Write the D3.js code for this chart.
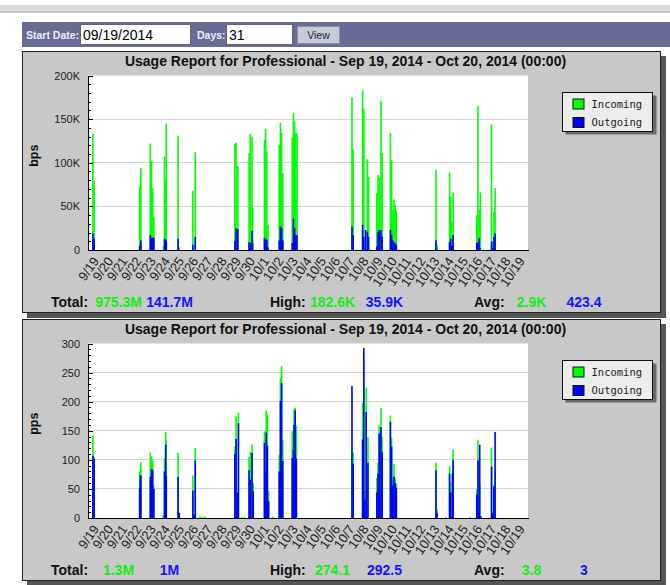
<!DOCTYPE html>
<head>
  <title>Usage Report</title>
  <meta charset="utf-8">
</head>
<style>
  body {
    margin: 0;
    background: #fff;
    overflow: hidden;
  }
  svg {
    display: block;
    font-family: "Liberation Sans", Arial, sans-serif;
  }
  .grid line {
    stroke: #d4d4d4;
    shape-rendering: crispEdges;
  }
  .yaxis path, .yaxis line, .xaxis path {
    stroke: #000;
    shape-rendering: crispEdges;
  }
  .yaxis text, .xaxis text {
    fill: #222;
    font-size: 11px;
    font-family: "Liberation Sans", Arial, sans-serif;
  }
  .xaxis text {
    font-size: 13px;
  }
</style>
<body>
  <svg id="page" width="670" height="585"></svg>
<script src="https://cdnjs.cloudflare.com/ajax/libs/d3/7.8.5/d3.min.js"></script>
<script>
  // x categories: one label per day, data is hourly (hours since 9/19 00:00)
  var days = ['9/19', '9/20', '9/21', '9/22', '9/23', '9/24', '9/25', '9/26', '9/27', '9/28',
              '9/29', '9/30', '10/1', '10/2', '10/3', '10/4', '10/5', '10/6', '10/7', '10/8',
              '10/9', '10/10', '10/11', '10/12', '10/13', '10/14', '10/15', '10/16', '10/17',
              '10/18', '10/19'];
  var totalHours = 744;

  // bps chart, values in K; hours not listed are 0
  var bpsHour = [7, 9, 86, 88, 104, 106, 108, 110, 126, 128, 130, 131, 151, 152, 176, 180,
                 247, 249, 252, 271, 273, 276, 277, 297, 298, 299, 301, 303, 322, 324, 326, 328,
                 344, 346, 348, 350, 352, 445, 447, 463, 465, 468, 471, 473, 487, 489, 491, 494,
                 496, 510, 512, 514, 516, 518, 520, 587, 589, 610, 612, 614, 616, 656, 658, 660,
                 662, 681, 683, 685, 687];
  var bpsIn = [133, 79, 73, 94, 122, 102, 71, 38, 4, 107, 78, 145, 131, 0, 68, 112,
               122, 123, 96, 111, 133, 130, 48, 126, 80, 139, 113, 29, 120, 146, 134, 88,
               129, 157, 147, 134, 134, 175, 115, 182.6, 162, 4, 104, 84, 65, 86, 83, 171,
               111, 134, 103, 46, 58, 52, 45, 92, 6, 89, 61, 32, 66, 40, 165, 46,
               66, 144, 9, 44, 71];
  var bpsOut = [19, 13, 5, 11, 17, 14, 14, 14, 0, 13, 12, 10, 13, 3, 6, 15,
                10, 25, 24, 9, 8, 22, 8, 14, 13, 12, 12, 3, 11, 27, 25, 11,
                8, 35.9, 25, 17, 17, 27, 17, 29, 15, 23, 21, 15, 4, 21, 23, 23,
                15, 23, 17, 11, 9, 8, 6, 11, 1, 9, 13, 5, 17, 8, 9, 14,
                2, 10, 2, 15, 19];
  var bpsTicks = [0, 50, 100, 150, 200];
  var bpsTickLabels = ['0', '50K', '100K', '150K', '200K'];

  // pps chart
  var ppsHour = [7, 9, 86, 87, 88, 104, 106, 108, 110, 126, 128, 130, 131, 151, 153, 176,
                 178, 180, 188, 192, 196, 247, 249, 251, 253, 258, 263, 271, 273, 276, 278, 297,
                 298, 300, 302, 304, 311, 322, 324, 326, 328, 344, 346, 347, 349, 351, 445, 447,
                 463, 465, 467, 469, 472, 487, 489, 491, 492, 494, 496, 510, 512, 514, 516, 518,
                 520, 587, 589, 604, 610, 612, 615, 616, 645, 656, 658, 659, 661, 663, 681, 683,
                 685, 687];
  var ppsIn = [142, 105, 80, 0, 96, 112, 106, 99, 57, 5, 102, 148, 134, 112, 0, 73,
               0, 120, 3, 2, 3, 123, 175, 45, 181, 2, 2, 105, 113, 126, 60, 149,
               95, 185, 178, 46, 2, 109, 241, 261, 134, 149, 149, 188, 190, 159, 110, 113,
               198, 274.1, 48, 224, 139, 69, 95, 159, 114, 189, 139, 176, 138, 66, 93, 69,
               59, 95, 15, 2, 89, 61, 77, 118, 2, 49, 134, 42, 60, 0, 121, 0,
               57, 80];
  var ppsOut = [107, 102, 52, 73, 73, 71, 84, 83, 50, 0, 80, 126, 72, 71, 9, 47,
                6, 99, 0, 0, 0, 110, 136, 43, 163, 0, 0, 82, 66, 112, 46, 129,
                80, 147, 124, 29, 0, 80, 201, 232, 98, 103, 117, 160, 185, 102, 227, 93,
                135, 292.5, 32, 182, 95, 44, 76, 145, 48, 156, 113, 165, 123, 56, 71, 60,
                52, 82, 9, 0, 76, 44, 76, 100, 0, 40, 99, 9, 126, 3, 88, 9,
                54, 148];
  var ppsTicks = [0, 50, 100, 150, 200, 250, 300];
  var ppsTickLabels = ['0', '50', '100', '150', '200', '250', '300'];

  var statNames = ['Total:', 'High:', 'Avg:'];
  var bpsInStats = ['975.3M', '182.6K', '2.9K'];
  var bpsOutStats = ['141.7M', '35.9K', '423.4'];
  var ppsInStats = ['1.3M', '274.1', '3.8'];
  var ppsOutStats = ['1M', '292.5', '3'];

  var title = 'Usage Report for Professional - Sep 19, 2014 - Oct 20, 2014 (00:00)';
  var legendNames = ['Incoming', 'Outgoing'];
  var inColor = '#00ff00', outColor = '#0000ff';

  var svg = d3.select('#page');

  function translate(x, y) {
    return 'translate(' + x + ', ' + y + ')';
  }

  // top rule
  svg.append('rect').attr('x', 0).attr('y', 5).attr('width', 670).attr('height', 8).attr('fill', '#dadada');
  svg.append('rect').attr('x', 0).attr('y', 11).attr('width', 670).attr('height', 2).attr('fill', '#c4c4c4');

  // control bar
  var bar = svg.append('g');
  bar.append('rect').attr('x', 22).attr('y', 22).attr('width', 648).attr('height', 25).attr('fill', '#696c97');
  bar.append('text').attr('x', 26).attr('y', 39).attr('font-size', 10.5).attr('font-weight', 'bold')
    .attr('fill', '#ececf6').text('Start Date:');
  bar.append('rect').attr('x', 80.5).attr('y', 24.5).attr('width', 110).attr('height', 20)
    .attr('fill', '#fff').attr('stroke', '#666');
  bar.append('text').attr('x', 83).attr('y', 40).attr('font-size', 14).attr('fill', '#000').text('09/19/2014');
  bar.append('text').attr('x', 197).attr('y', 39).attr('font-size', 10.5).attr('font-weight', 'bold')
    .attr('fill', '#ececf6').text('Days:');
  bar.append('rect').attr('x', 226.5).attr('y', 24.5).attr('width', 66).attr('height', 20)
    .attr('fill', '#fff').attr('stroke', '#666');
  bar.append('text').attr('x', 229).attr('y', 40).attr('font-size', 14).attr('fill', '#000').text('31');
  bar.append('rect').attr('x', 297.5).attr('y', 26.5).attr('width', 42).attr('height', 17)
    .attr('fill', '#c5ccd8').attr('stroke', '#8a90aa');
  bar.append('text').attr('x', 318.5).attr('y', 39).attr('font-size', 10.5).attr('text-anchor', 'middle')
    .attr('fill', '#1c2244').text('View');

  function drawPanel(top, cfg) {
    var g = svg.append('g').attr('transform', translate(0, top));
    var plotTop = 24.5, plotBottom = 199, plotLeft = 88, plotRight = 528;
    var barW = 1.6;

    g.append('rect').attr('x', 27).attr('y', 5).attr('width', 639).attr('height', 262).attr('fill', '#555');
    g.append('rect').attr('x', 22.5).attr('y', 0.5).attr('width', 638).attr('height', 261)
      .attr('fill', '#c8c8c8').attr('stroke', '#222');

    g.append('text').attr('x', 345.5).attr('y', 14.5).attr('text-anchor', 'middle')
      .attr('font-size', 14).attr('font-weight', 'bold').attr('fill', '#111').text(title);

    g.append('rect').attr('x', plotLeft).attr('y', plotTop).attr('width', plotRight - plotLeft)
      .attr('height', plotBottom - plotTop).attr('fill', '#fff');

    var x = d3.scaleLinear().domain([0, totalHours]).range([plotLeft, plotRight]);
    var y = d3.scaleLinear().domain([0, cfg.ticks[cfg.ticks.length - 1]]).range([plotBottom, plotTop]);

    // grid
    g.append('g').attr('class', 'grid').selectAll('line')
      .data(cfg.ticks.slice(1, -1))
      .join('line')
        .attr('x1', plotLeft).attr('x2', plotRight)
        .attr('y1', d => y(d)).attr('y2', d => y(d));

    // bars: incoming first, outgoing drawn over it
    var idx = d3.range(cfg.hours.length);
    g.append('g').selectAll('rect')
      .data(idx)
      .join('rect')
        .attr('x', i => x(cfg.hours[i]))
        .attr('width', barW)
        .attr('y', i => y(cfg.inv[i]))
        .attr('height', i => y(0) - y(cfg.inv[i]))
        .attr('fill', inColor);
    g.append('g').selectAll('rect')
      .data(idx)
      .join('rect')
        .attr('x', i => x(cfg.hours[i]))
        .attr('width', barW)
        .attr('y', i => y(cfg.outv[i]))
        .attr('height', i => y(0) - y(cfg.outv[i]))
        .attr('fill', outColor);

    // y axis, ticks point into the plot
    var step = cfg.ticks[1] / 5;
    var minor = d3.range(0, cfg.ticks[cfg.ticks.length - 1] + step / 2, step);
    g.append('g').attr('class', 'yaxis').attr('transform', translate(plotLeft, 0))
      .call(d3.axisLeft(y).tickValues(minor).tickSizeInner(-3).tickSizeOuter(0).tickFormat(''));
    g.append('g').attr('class', 'yaxis').attr('transform', translate(plotLeft, 0))
      .call(d3.axisLeft(y).tickValues(cfg.ticks).tickSizeInner(-5).tickSizeOuter(0).tickPadding(8)
        .tickFormat((d, i) => cfg.tickLabels[i]));

    // x axis with rotated day labels
    var xa = g.append('g').attr('class', 'xaxis').attr('transform', translate(0, plotBottom))
      .call(d3.axisBottom(x).tickValues(days.map((d, i) => i * 24 + 12)).tickSize(0)
        .tickFormat((d, i) => days[i]));
    xa.selectAll('text')
      .attr('x', 0).attr('y', 0).attr('dy', 0)
      .attr('text-anchor', 'end')
      .attr('transform', 'translate(4, 11) rotate(-55)');

    g.append('text')
      .attr('transform', translate(38, (plotTop + plotBottom) / 2 - 7) + ' rotate(-90)')
      .attr('text-anchor', 'middle').attr('font-size', 12.5).attr('font-weight', 'bold')
      .attr('fill', '#111').text(cfg.unit);

    // legend
    var lg = g.append('g').attr('transform', translate(562.5, 41.5));
    lg.append('rect').attr('x', 3).attr('y', 3).attr('width', 91).attr('height', 39).attr('fill', '#6a6a6a');
    lg.append('rect').attr('x', 0).attr('y', 0).attr('width', 90).attr('height', 39)
      .attr('fill', '#ececec').attr('stroke', '#111');
    legendNames.forEach(function(name, i) {
      lg.append('rect').attr('x', 10.5).attr('y', 6.5 + i * 18.5).attr('width', 11).attr('height', 10)
        .attr('fill', i ? outColor : inColor).attr('stroke', '#111');
      lg.append('text').attr('x', 29).attr('y', 15 + i * 18)
        .attr('font-family', '"DejaVu Sans Mono", monospace').attr('font-size', 10.5)
        .attr('fill', '#222').text(name);
    });

    // footer stats
    var nameX = [51, 270, 474], inX = [118.5, 332.5, 531.5], outX = [169.5, 384.5, 584];
    statNames.forEach(function(name, i) {
      g.append('text').attr('x', nameX[i]).attr('y', 256).attr('font-size', 14).attr('font-weight', 'bold')
        .attr('fill', '#111').text(name);
      g.append('text').attr('x', inX[i]).attr('y', 256).attr('font-size', 14).attr('font-weight', 'bold')
        .attr('text-anchor', 'middle').attr('fill', '#11ee11').text(cfg.inStats[i]);
      g.append('text').attr('x', outX[i]).attr('y', 256).attr('font-size', 14).attr('font-weight', 'bold')
        .attr('text-anchor', 'middle').attr('fill', '#1414ff').text(cfg.outStats[i]);
    });
  }

  drawPanel(51, {
    unit: 'bps', hours: bpsHour, inv: bpsIn, outv: bpsOut,
    ticks: bpsTicks, tickLabels: bpsTickLabels, inStats: bpsInStats, outStats: bpsOutStats
  });
  drawPanel(319, {
    unit: 'pps', hours: ppsHour, inv: ppsIn, outv: ppsOut,
    ticks: ppsTicks, tickLabels: ppsTickLabels, inStats: ppsInStats, outStats: ppsOutStats
  });
</script>
